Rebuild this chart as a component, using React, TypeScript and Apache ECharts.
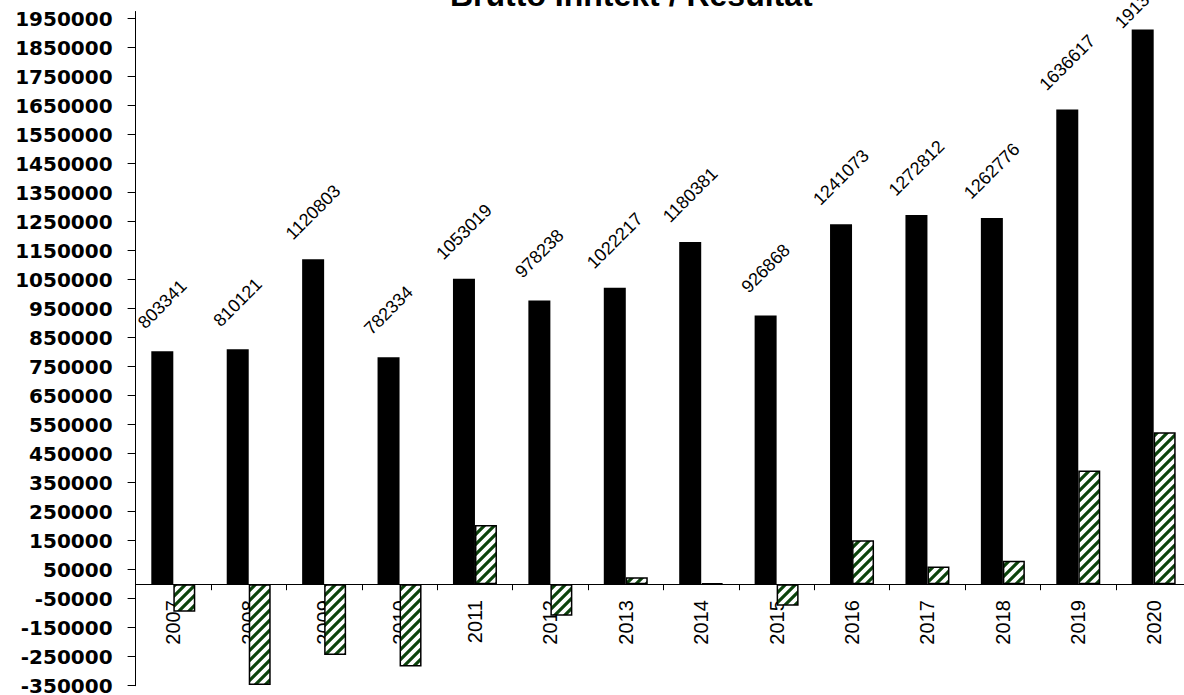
import React, { useEffect, useRef } from 'react';
import * as echarts from 'echarts';

const years = ['2007', '2008', '2009', '2010', '2011', '2012', '2013', '2014', '2015', '2016', '2017', '2018', '2019', '2020'];
const bruttoInntekt = [803341, 810121, 1120803, 782334, 1053019, 978238, 1022217, 1180381, 926868, 1241073, 1272812, 1262776, 1636617, 1913000];
const resultat = [-95000, -348000, -244000, -284000, 204000, -109000, 24000, 4000, -74000, 152000, 61000, 81000, 392000, 524000];
const yTickValues = [
  -350000, -250000, -150000, -50000, 50000, 150000, 250000, 350000, 450000, 550000, 650000, 750000,
  850000, 950000, 1050000, 1150000, 1250000, 1350000, 1450000, 1550000, 1650000, 1750000, 1850000, 1950000,
];
const titleText = 'Brutto Inntekt / Resultat';

const GRID_BOTTOM = 9.3;
const HEIGHT = 695;

export default function App() {
  const ref = useRef<HTMLDivElement>(null);
  useEffect(() => {
    const el = ref.current as HTMLDivElement;
    const chart = echarts.init(el, undefined, { renderer: 'svg' });

    const tile = document.createElement('canvas');
    tile.width = 10;
    tile.height = 10;
    const ctx = tile.getContext('2d') as CanvasRenderingContext2D;
    ctx.fillStyle = '#ffffff';
    ctx.fillRect(0, 0, 10, 10);
    ctx.strokeStyle = '#0c430c';
    ctx.lineWidth = 3.2;
    ctx.beginPath();
    ctx.moveTo(-2, 12); ctx.lineTo(12, -2);
    ctx.moveTo(-7, 7); ctx.lineTo(7, -7);
    ctx.moveTo(3, 17); ctx.lineTo(17, 3);
    ctx.stroke();

    const lastIdx = bruttoInntekt.length - 1;
    const incomeData = bruttoInntekt.map((v, i) =>
      i === lastIdx ? { value: v, label: { distance: 29 } } : v
    );

    chart.setOption({
      animation: false,
      backgroundColor: '#ffffff',
      graphic: [
        {
          type: 'text',
          x: 450,
          y: 11,
          style: {
            text: titleText,
            font: 'bold 32px "Liberation Sans", Arial, sans-serif',
            fill: '#000',
            textVerticalAlign: 'bottom',
          },
        },
      ],
      grid: { left: 135.6, right: -7.4, top: 11.5, bottom: GRID_BOTTOM, containLabel: false, outerBoundsMode: 'none' },
      xAxis: {
        type: 'category',
        data: years,
        position: 'bottom',
        offset: 0,
        axisLine: { show: true, onZero: false, lineStyle: { color: '#000', width: 1 } },
        axisTick: { show: true, length: 6, inside: false, lineStyle: { color: '#000' } },
        axisLabel: {
          rotate: 90,
          margin: 16,
          color: '#000',
          fontSize: 20,
          fontFamily: '"Liberation Sans", Arial, sans-serif',
        },
        splitLine: { show: false },
      },
      yAxis: {
        type: 'value',
        min: -350000,
        max: 1975000,
        axisLine: { show: true, lineStyle: { color: '#000', width: 1 } },
        axisTick: { show: true, length: 8, customValues: yTickValues, lineStyle: { color: '#000' } },
        axisLabel: {
          customValues: yTickValues,
          formatter: (v: number) => String(v),
          margin: 23,
          color: '#000',
          fontSize: 20,
          lineHeight: 18,
          fontWeight: 'bold',
          fontFamily: '"DejaVu Sans", sans-serif',
        },
        splitLine: { show: false },
      },
      series: [
        {
          name: 'Brutto Inntekt',
          type: 'bar',
          data: incomeData,
          barWidth: 22,
          barGap: '0%',
          itemStyle: { color: '#000' },
          label: {
            show: true,
            position: 'top',
            distance: 47,
            rotate: 45,
            align: 'center',
            verticalAlign: 'middle',
            color: '#000',
            fontSize: 18,
            fontFamily: '"Liberation Sans", Arial, sans-serif',
          },
        },
        {
          name: 'Resultat',
          type: 'bar',
          data: resultat,
          barWidth: 22,
          itemStyle: {
            color: { image: tile, repeat: 'repeat' },
            borderColor: '#000',
            borderWidth: 1.5,
          },
        },
      ],
    });

    // Move the category axis onto the zero line, using the value axis' own scale.
    const zeroY = chart.convertToPixel({ yAxisIndex: 0 }, 0) as number;
    const gridBottomY = HEIGHT - GRID_BOTTOM;
    chart.setOption({ xAxis: { offset: zeroY - gridBottomY } });

    return () => chart.dispose();
  }, []);
  return <div ref={ref} style={{ position: 'fixed', left: 0, top: 0, width: 1184, height: HEIGHT }} />;
}
